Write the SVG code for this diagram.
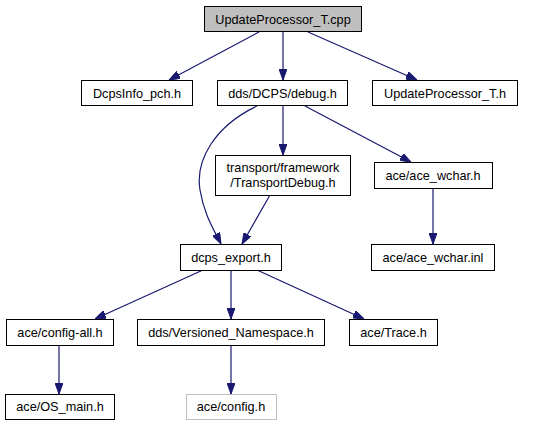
<svg xmlns="http://www.w3.org/2000/svg" width="537" height="425" viewBox="0 0 537 425">
<style>
.n rect{fill:#fff;stroke:#000;stroke-width:1}
.n text{font-family:"Liberation Sans",Arial,Helvetica,sans-serif;font-size:12.7px;text-anchor:middle;fill:#000}
#n0 rect{fill:#bfbfbf}
#n12 rect{stroke:#bfbfbf}
.e path{fill:none;stroke:#191970;stroke-width:1.2}
</style>
<defs>
<marker id="ah" viewBox="0 0 11 8" refX="11" refY="4" markerWidth="11" markerHeight="8" markerUnits="userSpaceOnUse" orient="auto">
<path d="M0,0 L11,4 L0,8 z" fill="#191970" stroke="#191970" stroke-width="1"/>
</marker>
</defs>
<g id="edges" class="e">
<path d="M259,32 L169,80" marker-end="url(#ah)"/>
<path d="M283,32 L283,80" marker-end="url(#ah)"/>
<path d="M308,32 L417,80" marker-end="url(#ah)"/>
<path d="M257,106 C215,126 195,160 200,190 C204,214 213,228 221,244" marker-end="url(#ah)"/>
<path d="M283,106 L283,155" marker-end="url(#ah)"/>
<path d="M305,106 L411,162" marker-end="url(#ah)"/>
<path d="M270,195 L242,244" marker-end="url(#ah)"/>
<path d="M433,188 L433,244" marker-end="url(#ah)"/>
<path d="M203,270 L95,319" marker-end="url(#ah)"/>
<path d="M231,270 L231,319" marker-end="url(#ah)"/>
<path d="M257,270 L364,319" marker-end="url(#ah)"/>
<path d="M59,345 L59,394" marker-end="url(#ah)"/>
<path d="M231,345 L231,394" marker-end="url(#ah)"/>
</g>
<g id="n0" class="n"><rect x="204.5" y="6.5" width="157" height="25"/><text x="283" y="23.5">UpdateProcessor_T.cpp</text></g>
<g id="n1" class="n"><rect x="81.5" y="80.5" width="111" height="25"/><text x="137" y="97.5">DcpsInfo_pch.h</text></g>
<g id="n2" class="n"><rect x="217.5" y="80.5" width="130" height="25"/><text x="282.5" y="97.5">dds/DCPS/debug.h</text></g>
<g id="n3" class="n"><rect x="372.5" y="80.5" width="145" height="25"/><text x="445" y="97.5">UpdateProcessor_T.h</text></g>
<g id="n4" class="n"><rect x="215.5" y="155.5" width="135" height="40"/><text x="283" y="171.5">transport/framework</text><text x="283" y="186.5">/TransportDebug.h</text></g>
<g id="n5" class="n"><rect x="374.5" y="162.5" width="118" height="26"/><text x="433" y="179.5">ace/ace_wchar.h</text></g>
<g id="n6" class="n"><rect x="180.5" y="244.5" width="101" height="26"/><text x="231" y="261.5">dcps_export.h</text></g>
<g id="n7" class="n"><rect x="371.5" y="244.5" width="123" height="26"/><text x="433" y="261.5">ace/ace_wchar.inl</text></g>
<g id="n8" class="n"><rect x="6.5" y="319.5" width="107" height="26"/><text x="60" y="336.5">ace/config-all.h</text></g>
<g id="n9" class="n"><rect x="137.5" y="319.5" width="187" height="26"/><text x="231" y="336.5">dds/Versioned_Namespace.h</text></g>
<g id="n10" class="n"><rect x="349.5" y="319.5" width="88" height="26"/><text x="393.5" y="336.5">ace/Trace.h</text></g>
<g id="n11" class="n"><rect x="5.5" y="394.5" width="109" height="25"/><text x="60" y="411">ace/OS_main.h</text></g>
<g id="n12" class="n"><rect x="186.5" y="394.5" width="90" height="25"/><text x="231" y="411">ace/config.h</text></g>
</svg>
